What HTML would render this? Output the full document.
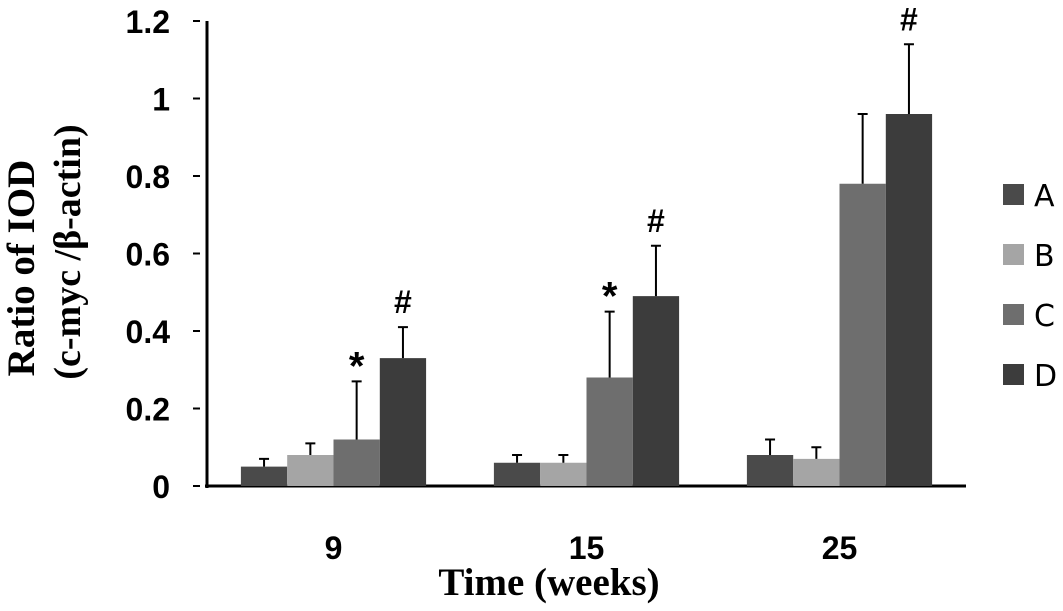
<!DOCTYPE html>
<html><head><meta charset="utf-8"><style>
body{margin:0;background:#fff;}
svg{display:block;font-family:"Liberation Serif",serif;}
</style></head><body>
<svg id="chart" width="1063" height="611" viewBox="0 0 1063 611">
<g id="yaxis"></g>
<g id="bars"></g>
<g id="legend"></g>
<text transform="translate(34,268) rotate(-90)" text-anchor="middle" font-size="39" font-weight="bold">Ratio of IOD</text>
<text transform="translate(80,252) rotate(-90)" text-anchor="middle" font-size="38" font-weight="bold">(c-myc /β-actin)</text>
<text x="549" y="595" text-anchor="middle" font-size="39" font-weight="bold">Time (weeks)</text>
</svg>
<script>
const categories=["9","15","25"];
const series=["A","B","C","D"];
const colors=["#4a4a4a","#a5a5a5","#6e6e6e","#3c3c3c"];
const valA=[0.05,0.06,0.08];
const valB=[0.08,0.06,0.07];
const valC=[0.12,0.28,0.78];
const valD=[0.33,0.49,0.96];
const errA=[0.02,0.02,0.04];
const errB=[0.03,0.02,0.03];
const errC=[0.15,0.17,0.18];
const errD=[0.08,0.13,0.18];
const marksC=["*","*",""];
const marksD=["#","#","#"];
const yTicks=[0,0.2,0.4,0.6,0.8,1,1.2];
const yTickLabels=["0","0.2","0.4","0.6","0.8","1","1.2"];
const NS="http://www.w3.org/2000/svg";
const x0=207,x1=966,y0=486,yTop=21,yMax=1.2,bw=46.3;
const y=v=>y0-(y0-yTop)*v/yMax;
const catW=(x1-x0)/categories.length;
const cx=i=>x0+catW*(i+0.5);
function mk(t,a,p){const e=document.createElementNS(NS,t);for(const k in a)e.setAttribute(k,a[k]);p.appendChild(e);return e;}
const ya=document.getElementById('yaxis');
let l=mk('line',{x1:x0,y1:yTop,x2:x0,y2:y0+2,stroke:'#000','stroke-width':3},ya);

l=mk('line',{x1:x0-2,y1:y0,x2:x1,y2:y0,stroke:'#000','stroke-width':3},ya);

yTicks.forEach((v,i)=>{
 const t=mk('line',{x1:193,y1:y(v),x2:200,y2:y(v),stroke:'#000','stroke-width':2},ya);
 
 const tx=mk('text',{x:170,y:y(v)+12,'text-anchor':'end','font-size':32,'font-weight':'bold','font-family':'Liberation Sans, sans-serif'},ya);
 tx.textContent=yTickLabels[i];
 
});
const vals=[valA,valB,valC,valD],errs=[errA,errB,errC,errD];
const bg=document.getElementById('bars');
categories.forEach((c,i)=>{
 const lab=mk('text',{x:cx(i),y:559,'text-anchor':'middle','font-size':32,'font-weight':'bold','font-family':'Liberation Sans, sans-serif'},bg);
 lab.textContent=c;
 
 series.forEach((s,j)=>{
  const bx=cx(i)+(j-2)*bw, v=vals[j][i], e=errs[j][i];
  const r=mk('rect',{x:bx,y:y(v),width:bw,height:y0-y(v),fill:colors[j]},bg);
  
  const mx=bx+bw/2;
  const el=mk('path',{d:`M${mx},${y(v)}V${y(v+e)}M${mx-5},${y(v+e)}H${mx+5}`,stroke:'#000','stroke-width':2,fill:'none'},bg);
  
  const m=j==2?marksC[i]:(j==3?marksD[i]:"");
  if(m){const mt=mk('text',{x:mx,y:y(v+e)-(m=='*'?2:14),'text-anchor':'middle','font-size':m=='*'?40:32,'font-weight':'bold','font-family':'Liberation Sans, sans-serif'},bg);
   mt.textContent=m;
   }
 });
});
const lg=document.getElementById('legend');
series.forEach((s,j)=>{
 const r=mk('rect',{x:1003,y:184+60*j,width:21,height:21,fill:colors[j]},lg);
 
 const t=mk('text',{x:1034,y:206+60*j,'font-size':30,'font-family':'DejaVu Sans, sans-serif'},lg);
 t.textContent=s;
 
});
</script>
</body></html>
